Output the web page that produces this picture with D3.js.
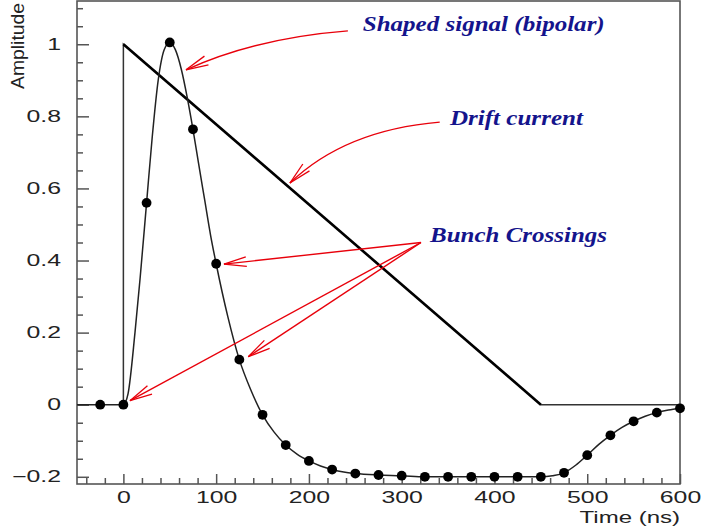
<!DOCTYPE html>
<html>
<head>
<meta charset="utf-8">
<script src="https://cdn.jsdelivr.net/npm/d3@7"></script>
<style>
  body { margin: 0; background: #fff; }
  svg { display: block; }
</style>
</head>
<body>
<script>
// page size, same as the window
var svg_width = 702;
var svg_height = 531;

// shaped (bipolar) signal
var shapeTime = [-50, -25, 0, 2, 5, 12.5, 18, 25, 31, 37.5, 44, 50, 56, 62.5, 69, 75, 81, 87.5, 94, 100,
  112.5, 125, 137.5, 150, 162.5, 175, 187.5, 200, 212.5, 225, 237.5, 250, 275, 300, 325, 350, 375,
  400, 425, 450, 462.5, 475, 487.5, 500, 512.5, 525, 537.5, 550, 562.5, 575, 587.5, 600];
var shapeAmp = [0, 0, 0, 0.005, 0.03, 0.2, 0.35, 0.56, 0.74, 0.9, 0.985, 1.005, 0.985, 0.93, 0.85, 0.764, 0.67, 0.57, 0.47, 0.391,
  0.245, 0.125, 0.04, -0.028, -0.076, -0.112, -0.138, -0.156, -0.17, -0.18, -0.187, -0.191, -0.195, -0.197, -0.2, -0.2, -0.2,
  -0.2, -0.2, -0.2, -0.197, -0.189, -0.168, -0.14, -0.11, -0.085, -0.063, -0.046, -0.032, -0.022, -0.015, -0.01];

// bunch crossings, one every 25 ns
var bunchTime = [-25, 0, 25, 50, 75, 100, 125, 150, 175, 200, 225, 250, 275, 300, 325, 350, 375, 400,
  425, 450, 475, 500, 525, 550, 575, 600];
var bunchAmp = [0, 0, 0.56, 1.005, 0.764, 0.391, 0.125, -0.028, -0.112, -0.156, -0.18, -0.191, -0.195, -0.197,
  -0.2, -0.2, -0.2, -0.2, -0.2, -0.2, -0.189, -0.14, -0.085, -0.046, -0.022, -0.01];

// drift current (triangle)
var driftTime = [0, 0, 450, 600];
var driftAmp = [0, 1, 0, 0];

// ticks and labels
var xTicks = [0, 100, 200, 300, 400, 500, 600];
var xTickLabels = ["0", "100", "200", "300", "400", "500", "600"];
var yTicks = [-0.2, 0, 0.2, 0.4, 0.6, 0.8, 1];
var yTickLabels = ["\u22120.2", "0", "0.2", "0.4", "0.6", "0.8", "1"];

// annotations, in data units: [time, amplitude]
var notes = [
  { text: "Shaped signal (bipolar)", at: [258, 1.037], width: 242 },
  { text: "Drift current", at: [352, 0.776], width: 133 },
  { text: "Bunch Crossings", at: [330.5, 0.451], width: 177 }
];
// curved arrows: start, control, tip
var curvedArrows = [
  [[242, 1.037], [142, 1.017], [67.5, 0.929]],
  [[341, 0.784], [239, 0.762], [179.5, 0.615]]
];
// straight arrows from "Bunch Crossings"
var bunchFrom = [320.8, 0.45];
var bunchTips = [[108.4, 0.39], [134.6, 0.133], [7.1, 0.011]];

var plot = { left: 77, right: 680, top: 1, bottom: 484 };

var svg = d3.select("body").append("svg")
  .attr("width", svg_width)
  .attr("height", svg_height);

var x = d3.scaleLinear().domain([-50, 600]).range([plot.left, plot.right]);
var y = d3.scaleLinear().domain([-0.22, 1.12]).range([plot.bottom, plot.top]);

// stretch the axis text a bit, the original is wide
function stretch(sel, k) {
  sel.each(function() {
    this.setAttribute("textLength", this.getComputedTextLength() * k);
    this.setAttribute("lengthAdjust", "spacingAndGlyphs");
  });
}

var axisFont = "'Liberation Sans', Arial, Helvetica, sans-serif";

// y axis, ticks pointing inside
var yMinor = d3.range(-0.2, 1.1001, 0.05).filter(function(v) {
  return Math.abs(Math.round(v * 5) - v * 5) > 1e-6;
});
svg.append("g")
  .attr("transform", "translate(" + plot.left + ",0)")
  .call(d3.axisLeft(y).tickValues(yMinor).tickSize(-6).tickFormat(""))
  .call(function(g) { g.select(".domain").remove(); });
var yAxis = svg.append("g")
  .attr("transform", "translate(" + plot.left + ",0)")
  .call(d3.axisLeft(y).tickValues(yTicks).tickSize(-12).tickPadding(16)
    .tickFormat(function(d, i) { return yTickLabels[i]; }))
  .call(function(g) { g.select(".domain").remove(); });

// x axis
var xMinor = d3.range(-40, 600, 20).filter(function(v) { return v % 100 !== 0; });
svg.append("g")
  .attr("transform", "translate(0," + plot.bottom + ")")
  .call(d3.axisBottom(x).tickValues(xMinor).tickSize(-6).tickFormat(""))
  .call(function(g) { g.select(".domain").remove(); });
var xAxis = svg.append("g")
  .attr("transform", "translate(0," + plot.bottom + ")")
  .call(d3.axisBottom(x).tickValues(xTicks).tickSize(-10).tickPadding(8)
    .tickFormat(function(d, i) { return xTickLabels[i]; }))
  .call(function(g) { g.select(".domain").remove(); });

svg.selectAll(".tick line").attr("stroke", "#555").attr("stroke-width", 1.5);
svg.selectAll(".tick text")
  .attr("font-family", axisFont)
  .attr("font-size", 16)
  .attr("fill", "#222");
stretch(yAxis.selectAll(".tick text"), 1.55);
stretch(xAxis.selectAll(".tick text"), 1.55);

// frame
svg.append("rect")
  .attr("x", plot.left)
  .attr("y", plot.top)
  .attr("width", plot.right - plot.left)
  .attr("height", plot.bottom - plot.top)
  .attr("fill", "none")
  .attr("stroke", "#555")
  .attr("stroke-width", 1.6);

// axis titles
stretch(svg.append("text")
  .attr("x", plot.right)
  .attr("y", 523)
  .attr("text-anchor", "end")
  .attr("font-family", axisFont)
  .attr("font-size", 16)
  .attr("fill", "#222")
  .text("Time (ns)"), 1.5);

svg.append("text")
  .attr("transform", "translate(24,3) rotate(-90)")
  .attr("text-anchor", "end")
  .attr("font-family", axisFont)
  .attr("font-size", 18.5)
  .attr("fill", "#222")
  .attr("textLength", 86)
  .attr("lengthAdjust", "spacingAndGlyphs")
  .text("Amplitude");

// drift current: thin outline, thick falling edge
var driftPts = driftTime.map(function(t, i) { return [t, driftAmp[i]]; });
var line = d3.line()
  .x(function(d) { return x(d[0]); })
  .y(function(d) { return y(d[1]); });
svg.append("path")
  .attr("d", line(driftPts))
  .attr("fill", "none")
  .attr("stroke", "#333")
  .attr("stroke-width", 1.5);
svg.append("path")
  .attr("d", line(driftPts.slice(1, 3)))
  .attr("fill", "none")
  .attr("stroke", "#000")
  .attr("stroke-width", 2.6);

// shaped signal
var shapePts = shapeTime.map(function(t, i) { return [t, shapeAmp[i]]; });
svg.append("path")
  .attr("d", line.curve(d3.curveMonotoneX)(shapePts))
  .attr("fill", "none")
  .attr("stroke", "#222")
  .attr("stroke-width", 1.5);

// bunch crossing dots
svg.append("g")
  .selectAll("circle")
  .data(bunchTime)
  .enter()
  .append("circle")
    .attr("cx", function(t) { return x(t); })
    .attr("cy", function(t, i) { return y(bunchAmp[i]); })
    .attr("r", 4.9)
    .attr("fill", "#000");

// red arrows
var red = "#e8000b";
function arrowHead(tip, from) {
  var tx = x(tip[0]), ty = y(tip[1]);
  var a = Math.atan2(y(from[1]) - ty, x(from[0]) - tx);
  var len = 23, spread = 12 * Math.PI / 180;
  [a - spread, a + spread].forEach(function(b) {
    svg.append("line")
      .attr("x1", tx).attr("y1", ty)
      .attr("x2", tx + len * Math.cos(b))
      .attr("y2", ty + len * Math.sin(b))
      .attr("stroke", red)
      .attr("stroke-width", 1.3);
  });
}

curvedArrows.forEach(function(c) {
  var p = d3.path();
  p.moveTo(x(c[0][0]), y(c[0][1]));
  p.quadraticCurveTo(x(c[1][0]), y(c[1][1]), x(c[2][0]), y(c[2][1]));
  svg.append("path")
    .attr("d", p.toString())
    .attr("fill", "none")
    .attr("stroke", red)
    .attr("stroke-width", 1.4);
  arrowHead(c[2], c[1]);
});

bunchTips.forEach(function(tip) {
  svg.append("line")
    .attr("x1", x(bunchFrom[0])).attr("y1", y(bunchFrom[1]))
    .attr("x2", x(tip[0])).attr("y2", y(tip[1]))
    .attr("stroke", red)
    .attr("stroke-width", 1.4);
  arrowHead(tip, bunchFrom);
});

// labels
notes.forEach(function(n) {
  svg.append("text")
    .attr("x", x(n.at[0]))
    .attr("y", y(n.at[1]))
    .attr("font-family", "'Liberation Serif', 'Times New Roman', serif")
    .attr("font-weight", "bold")
    .attr("font-style", "italic")
    .attr("font-size", 22)
    .attr("fill", "#14148c")
    .attr("textLength", n.width)
    .attr("lengthAdjust", "spacingAndGlyphs")
    .text(n.text);
});
</script>
</body>
</html>
